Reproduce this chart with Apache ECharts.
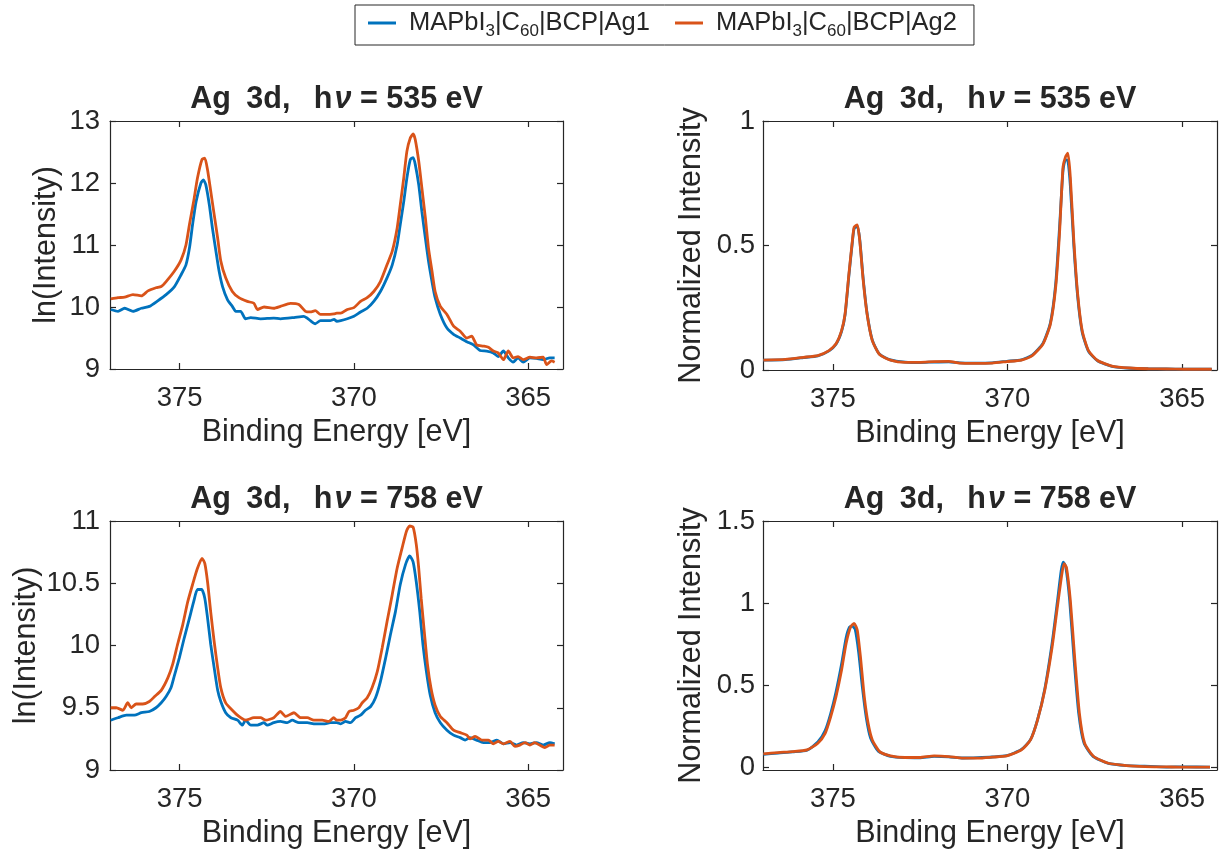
<!DOCTYPE html>
<html>
<head>
<meta charset="utf-8">
<title>Ag 3d core-level spectra</title>
<script src="https://cdn.jsdelivr.net/npm/echarts@6/dist/echarts.min.js"></script>
<style>
  html, body { margin: 0; padding: 0; background: #ffffff; }
  #chart { width: 1227px; height: 853px; }
</style>
</head>
<body>
<div id="chart"></div>
<script>
// Sample names (legend entries)
const sampleNames = ['MAPbI3|C60|BCP|Ag1', 'MAPbI3|C60|BCP|Ag2'];

// Panel titles: photon energy in eV
const photonEnergies = [535, 758];

// Tick values
const energyTicks = [365, 370, 375];
const lnTicks535 = [9, 10, 11, 12, 13];
const lnTicks758 = [9, 9.5, 10, 10.5, 11];
const normTicks535 = [0, 0.5, 1];
const normTicks758 = [0, 0.5, 1, 1.5];

// ln(Intensity) vs binding energy, hv = 535 eV
const ln535_Ag1 = [
  [376.98, 9.96], [376.77, 9.93], [376.58, 9.98], [376.34, 9.93], [376.10, 9.98], [375.87, 10.01],
  [375.63, 10.10], [375.39, 10.20], [375.15, 10.33], [374.96, 10.52], [374.82, 10.68], [374.72, 10.95],
  [374.63, 11.33], [374.53, 11.70], [374.39, 12.00], [374.32, 12.05], [374.25, 11.97], [374.15, 11.65],
  [374.06, 11.27], [373.96, 10.90], [373.87, 10.58], [373.77, 10.33], [373.63, 10.12], [373.49, 10.01],
  [373.39, 9.93], [373.25, 9.93], [373.11, 9.81], [372.96, 9.83], [372.68, 9.81], [372.30, 9.82],
  [372.11, 9.81], [371.72, 9.83], [371.44, 9.85], [371.34, 9.82], [371.25, 9.78], [371.11, 9.73],
  [370.96, 9.78], [370.68, 9.78], [370.57, 9.80], [370.49, 9.77], [370.38, 9.78], [370.19, 9.81],
  [370.00, 9.85], [369.81, 9.92], [369.62, 9.98], [369.43, 10.09], [369.24, 10.25], [369.05, 10.47],
  [368.90, 10.68], [368.76, 11.00], [368.67, 11.33], [368.57, 11.70], [368.48, 12.08], [368.38, 12.38],
  [368.30, 12.41], [368.24, 12.30], [368.14, 11.97], [368.05, 11.54], [367.95, 11.11], [367.86, 10.74],
  [367.76, 10.41], [367.67, 10.15], [367.52, 9.88], [367.33, 9.66], [367.14, 9.56], [366.95, 9.50],
  [366.76, 9.44], [366.57, 9.39], [366.38, 9.30], [366.19, 9.29], [366.00, 9.26], [365.86, 9.20],
  [365.71, 9.29], [365.57, 9.18], [365.43, 9.11], [365.29, 9.18], [365.14, 9.11], [364.95, 9.18],
  [364.76, 9.17], [364.57, 9.15], [364.38, 9.18], [364.24, 9.18]
];
const ln535_Ag2 = [
  [376.98, 10.13], [376.77, 10.15], [376.58, 10.16], [376.34, 10.20], [376.10, 10.18], [375.91, 10.26],
  [375.68, 10.31], [375.53, 10.33], [375.39, 10.41], [375.15, 10.58], [374.96, 10.76], [374.82, 11.00],
  [374.72, 11.33], [374.60, 11.70], [374.49, 12.08], [374.36, 12.38], [374.28, 12.40], [374.20, 12.21],
  [374.11, 11.87], [374.01, 11.49], [373.91, 11.11], [373.82, 10.74], [373.68, 10.47], [373.49, 10.25],
  [373.30, 10.15], [373.06, 10.09], [372.87, 10.06], [372.77, 9.96], [372.58, 10.00], [372.30, 9.98],
  [372.11, 10.01], [371.82, 10.06], [371.58, 10.04], [371.39, 9.93], [371.25, 9.92], [371.11, 9.94],
  [370.96, 9.88], [370.77, 9.88], [370.57, 9.89], [370.49, 9.90], [370.38, 9.90], [370.19, 9.96],
  [370.00, 9.99], [369.81, 10.09], [369.62, 10.15], [369.43, 10.25], [369.24, 10.41], [369.05, 10.68],
  [368.90, 10.90], [368.76, 11.27], [368.67, 11.65], [368.57, 12.08], [368.48, 12.51], [368.38, 12.73],
  [368.30, 12.79], [368.24, 12.70], [368.14, 12.35], [368.05, 11.92], [367.95, 11.44], [367.86, 10.95],
  [367.76, 10.58], [367.67, 10.25], [367.52, 10.01], [367.33, 9.88], [367.14, 9.69], [366.95, 9.61],
  [366.76, 9.50], [366.62, 9.53], [366.48, 9.39], [366.29, 9.37], [366.14, 9.35], [366.00, 9.29],
  [365.86, 9.26], [365.71, 9.15], [365.57, 9.29], [365.43, 9.18], [365.29, 9.20], [365.14, 9.15],
  [364.95, 9.19], [364.76, 9.18], [364.57, 9.19], [364.47, 9.07], [364.33, 9.13], [364.24, 9.11]
];

// ln(Intensity) vs binding energy, hv = 758 eV
const ln758_Ag1 = [
  [376.98, 9.40], [376.77, 9.42], [376.53, 9.44], [376.30, 9.44], [376.10, 9.46], [375.87, 9.47],
  [375.68, 9.50], [375.53, 9.54], [375.39, 9.59], [375.25, 9.66], [375.15, 9.76], [375.01, 9.90],
  [374.87, 10.06], [374.72, 10.22], [374.60, 10.35], [374.49, 10.45], [374.37, 10.45], [374.28, 10.38],
  [374.20, 10.22], [374.11, 10.01], [374.01, 9.82], [373.91, 9.64], [373.82, 9.55], [373.68, 9.46],
  [373.53, 9.42], [373.34, 9.40], [373.20, 9.36], [373.11, 9.40], [372.96, 9.36], [372.77, 9.36],
  [372.58, 9.38], [372.49, 9.36], [372.30, 9.38], [372.11, 9.39], [371.91, 9.38], [371.77, 9.40],
  [371.58, 9.38], [371.34, 9.38], [371.11, 9.37], [370.87, 9.37], [370.68, 9.38], [370.57, 9.38],
  [370.49, 9.38], [370.38, 9.37], [370.24, 9.39], [370.10, 9.38], [369.95, 9.42], [369.81, 9.44],
  [369.67, 9.48], [369.52, 9.51], [369.38, 9.58], [369.24, 9.71], [369.09, 9.90], [368.95, 10.09],
  [368.81, 10.27], [368.67, 10.49], [368.52, 10.65], [368.40, 10.72], [368.30, 10.67], [368.21, 10.51],
  [368.11, 10.27], [368.02, 10.01], [367.92, 9.79], [367.81, 9.60], [367.67, 9.46], [367.52, 9.38],
  [367.33, 9.32], [367.14, 9.28], [366.95, 9.26], [366.81, 9.24], [366.67, 9.26], [366.48, 9.24],
  [366.29, 9.22], [366.09, 9.22], [365.90, 9.24], [365.71, 9.21], [365.52, 9.22], [365.33, 9.20],
  [365.14, 9.22], [364.95, 9.21], [364.76, 9.22], [364.57, 9.20], [364.38, 9.22], [364.24, 9.21]
];
const ln758_Ag2 = [
  [376.98, 9.50], [376.82, 9.50], [376.63, 9.48], [376.49, 9.54], [376.39, 9.50], [376.25, 9.53],
  [376.06, 9.53], [375.87, 9.55], [375.72, 9.59], [375.53, 9.64], [375.34, 9.74], [375.20, 9.85],
  [375.06, 10.01], [374.91, 10.17], [374.77, 10.35], [374.63, 10.49], [374.49, 10.62], [374.36, 10.70],
  [374.28, 10.66], [374.20, 10.51], [374.11, 10.27], [374.01, 10.03], [373.91, 9.82], [373.82, 9.66],
  [373.68, 9.54], [373.49, 9.48], [373.30, 9.43], [373.11, 9.40], [372.87, 9.42], [372.68, 9.42],
  [372.53, 9.40], [372.30, 9.42], [372.11, 9.47], [371.96, 9.43], [371.72, 9.46], [371.53, 9.42],
  [371.34, 9.42], [371.15, 9.40], [370.91, 9.40], [370.72, 9.39], [370.58, 9.42], [370.49, 9.40],
  [370.38, 9.40], [370.24, 9.42], [370.14, 9.47], [370.00, 9.48], [369.86, 9.50], [369.76, 9.54],
  [369.62, 9.58], [369.48, 9.66], [369.33, 9.79], [369.19, 9.98], [369.05, 10.19], [368.90, 10.41],
  [368.76, 10.62], [368.62, 10.78], [368.49, 10.92], [368.40, 10.96], [368.30, 10.95], [368.21, 10.81],
  [368.14, 10.62], [368.07, 10.38], [367.98, 10.11], [367.89, 9.85], [367.79, 9.66], [367.67, 9.52],
  [367.52, 9.43], [367.33, 9.38], [367.14, 9.32], [366.95, 9.30], [366.76, 9.28], [366.67, 9.25],
  [366.52, 9.27], [366.33, 9.24], [366.14, 9.24], [366.00, 9.21], [365.86, 9.23], [365.71, 9.21],
  [365.52, 9.23], [365.38, 9.19], [365.24, 9.20], [365.09, 9.22], [364.95, 9.20], [364.81, 9.22],
  [364.67, 9.20], [364.52, 9.18], [364.38, 9.20], [364.24, 9.20]
];

// Normalized intensity vs binding energy, hv = 535 eV
const norm535_Ag1 = [
  [376.99, 0.040], [376.36, 0.042], [375.84, 0.050], [375.43, 0.057], [375.11, 0.077], [374.91, 0.103],
  [374.75, 0.155], [374.65, 0.222], [374.54, 0.380], [374.44, 0.515], [374.39, 0.568], [374.30, 0.578],
  [374.23, 0.525], [374.13, 0.365], [374.02, 0.228], [373.87, 0.120], [373.66, 0.063], [373.35, 0.041],
  [372.93, 0.032], [372.52, 0.030], [372.10, 0.032], [371.68, 0.033], [371.37, 0.029], [370.96, 0.028],
  [370.44, 0.029], [370.02, 0.035], [369.60, 0.041], [369.29, 0.060], [368.98, 0.108], [368.77, 0.190],
  [368.62, 0.345], [368.51, 0.570], [368.41, 0.800], [368.34, 0.845], [368.27, 0.840], [368.20, 0.740],
  [368.10, 0.500], [367.99, 0.295], [367.86, 0.152], [367.68, 0.075], [367.42, 0.037], [367.01, 0.015],
  [366.49, 0.007], [365.97, 0.005], [365.45, 0.004], [364.93, 0.003], [364.41, 0.003], [364.15, 0.003]
];
const norm535_Ag2 = [
  [376.99, 0.040], [376.36, 0.043], [375.84, 0.051], [375.43, 0.058], [375.11, 0.078], [374.91, 0.105],
  [374.75, 0.158], [374.65, 0.225], [374.54, 0.386], [374.44, 0.520], [374.39, 0.574], [374.30, 0.583],
  [374.23, 0.520], [374.13, 0.359], [374.02, 0.225], [373.87, 0.118], [373.66, 0.062], [373.35, 0.040],
  [372.93, 0.031], [372.52, 0.031], [372.10, 0.034], [371.68, 0.035], [371.37, 0.028], [370.96, 0.027],
  [370.44, 0.028], [370.02, 0.034], [369.60, 0.040], [369.29, 0.058], [368.98, 0.105], [368.77, 0.185],
  [368.62, 0.332], [368.51, 0.547], [368.41, 0.815], [368.34, 0.855], [368.27, 0.871], [368.20, 0.775],
  [368.10, 0.520], [367.99, 0.306], [367.86, 0.158], [367.68, 0.078], [367.42, 0.038], [367.01, 0.016],
  [366.49, 0.008], [365.97, 0.005], [365.45, 0.004], [364.93, 0.003], [364.41, 0.003], [364.15, 0.003]
];

// Normalized intensity vs binding energy, hv = 758 eV
const norm758_Ag1 = [
  [376.99, 0.080], [376.57, 0.088], [376.15, 0.095], [375.74, 0.105], [375.43, 0.155], [375.22, 0.225],
  [375.06, 0.330], [374.91, 0.460], [374.75, 0.630], [374.62, 0.790], [374.52, 0.855], [374.44, 0.860],
  [374.36, 0.840], [374.26, 0.700], [374.15, 0.480], [374.04, 0.300], [373.92, 0.180], [373.70, 0.100],
  [373.35, 0.068], [372.93, 0.060], [372.52, 0.059], [372.10, 0.068], [371.68, 0.065], [371.27, 0.058],
  [370.85, 0.060], [370.44, 0.064], [370.02, 0.072], [369.60, 0.110], [369.34, 0.170], [369.14, 0.290],
  [368.93, 0.480], [368.72, 0.760], [368.57, 1.010], [368.46, 1.200], [368.40, 1.250], [368.33, 1.220],
  [368.22, 1.020], [368.09, 0.650], [367.96, 0.330], [367.81, 0.150], [367.55, 0.068], [367.11, 0.025],
  [366.59, 0.012], [366.07, 0.008], [365.45, 0.003], [364.93, 0.004], [364.20, 0.002]
];
const norm758_Ag2 = [
  [376.99, 0.083], [376.57, 0.091], [376.15, 0.097], [375.74, 0.107], [375.43, 0.148], [375.22, 0.208],
  [375.06, 0.310], [374.91, 0.431], [374.75, 0.593], [374.62, 0.755], [374.49, 0.856], [374.39, 0.877],
  [374.30, 0.836], [374.20, 0.654], [374.10, 0.431], [373.99, 0.269], [373.87, 0.168], [373.66, 0.097],
  [373.35, 0.071], [372.93, 0.061], [372.52, 0.061], [372.10, 0.071], [371.68, 0.067], [371.27, 0.057],
  [370.85, 0.057], [370.44, 0.063], [370.02, 0.071], [369.60, 0.107], [369.34, 0.168], [369.14, 0.289],
  [368.93, 0.472], [368.72, 0.735], [368.57, 0.978], [368.44, 1.180], [368.38, 1.241], [368.31, 1.217],
  [368.20, 1.018], [368.07, 0.654], [367.94, 0.330], [367.79, 0.148], [367.53, 0.067], [367.11, 0.026],
  [366.59, 0.012], [366.07, 0.006], [365.45, 0.004], [364.93, 0.002], [364.20, 0.002]
];

const FONT = '"Liberation Sans", Arial, Helvetica, sans-serif';
const INK = '#262626';
const BLUE = '#0072BD';
const ORANGE = '#D95319';
const TICK_FONT = 27.5;
const LABEL_FONT = 30.5;

// Panel geometry (pixels)
const panels = [
  { left: 110, top: 121, width: 453, height: 248, yName: 'ln(Intensity)', yMin: 9, yMax: 13, yTicks: lnTicks535, nameGap: 48, labelMargin: 10, hv: photonEnergies[0], data: [ln535_Ag1, ln535_Ag2] },
  { left: 763, top: 121, width: 454, height: 249, yName: 'Normalized Intensity', yMin: 0, yMax: 1, yTicks: normTicks535, nameGap: 56, labelMargin: 8, hv: photonEnergies[0], data: [norm535_Ag1, norm535_Ag2] },
  { left: 110, top: 521, width: 453, height: 249, yName: 'ln(Intensity)', yMin: 9, yMax: 11, yTicks: lnTicks758, nameGap: 48, labelMargin: 10, hv: photonEnergies[1], data: [ln758_Ag1, ln758_Ag2] },
  { left: 763, top: 521, width: 454, height: 249, yName: 'Normalized Intensity', yMin: -0.015, yMax: 1.5, yTicks: normTicks758, nameGap: 56, labelMargin: 8, hv: photonEnergies[1], data: [norm758_Ag1, norm758_Ag2] }
];

const axisLineStyle = { color: INK, width: 1.2 };
const grids = [], xAxes = [], yAxes = [], titles = [], series = [];

panels.forEach((p, i) => {
  grids.push({ left: p.left, top: p.top, width: p.width, height: p.height, containLabel: false });

  titles.push({
    text: '{b|Ag}{g1| }{b|3d,}{g2| }{b|h}{i|ν}{b| = ' + p.hv + ' eV}',
    left: p.left + p.width / 2,
    top: p.top - 36.5,
    textAlign: 'center',
    padding: 0,
    textStyle: {
      rich: {
        b: { fontFamily: FONT, fontSize: LABEL_FONT, fontWeight: 'bold', color: INK },
        i: { fontFamily: FONT, fontSize: LABEL_FONT, fontWeight: 'bold', fontStyle: 'italic', color: INK, padding: [0, 0, 0, 2] },
        g1: { width: 15.5 },
        g2: { width: 23.5 }
      }
    }
  });

  const xBase = {
    gridIndex: i, type: 'value', inverse: true, min: 364, max: 377,
    axisLine: { show: true, onZero: false, lineStyle: axisLineStyle },
    axisTick: { show: true, inside: true, length: 6, customValues: energyTicks, lineStyle: axisLineStyle },
    splitLine: { show: false }
  };
  xAxes.push(Object.assign({}, xBase, {
    position: 'bottom',
    axisLabel: { customValues: energyTicks, fontFamily: FONT, fontSize: TICK_FONT, color: INK, margin: 15 },
    name: 'Binding Energy [eV]', nameLocation: 'middle', nameGap: 48.5,
    nameTextStyle: { fontFamily: FONT, fontSize: LABEL_FONT, color: INK }
  }));
  xAxes.push(Object.assign({}, xBase, { position: 'top', axisLabel: { show: false } }));

  const yBase = {
    gridIndex: i, type: 'value', min: p.yMin, max: p.yMax,
    axisLine: { show: true, onZero: false, lineStyle: axisLineStyle },
    axisTick: { show: true, inside: true, length: 6, customValues: p.yTicks, lineStyle: axisLineStyle },
    splitLine: { show: false }
  };
  yAxes.push(Object.assign({}, yBase, {
    position: 'left',
    axisLabel: { customValues: p.yTicks, fontFamily: FONT, fontSize: TICK_FONT, color: INK, margin: p.labelMargin },
    name: p.yName, nameLocation: 'middle', nameGap: p.nameGap, nameRotate: 90,
    nameTextStyle: { fontFamily: FONT, fontSize: LABEL_FONT, color: INK }
  }));
  yAxes.push(Object.assign({}, yBase, { position: 'right', axisLabel: { show: false } }));

  [BLUE, ORANGE].forEach((c, k) => {
    series.push({
      name: sampleNames[k],
      type: 'line',
      xAxisIndex: 2 * i,
      yAxisIndex: 2 * i,
      data: p.data[k],
      showSymbol: false,
      symbol: 'none',
      smooth: 0.2,
      color: c,
      lineStyle: { color: c, width: 2.8 },
      z: 2 + k
    });
  });
});

const chart = echarts.init(document.getElementById('chart'), null, { renderer: 'canvas' });
chart.setOption({
  backgroundColor: '#ffffff',
  animation: false,
  title: titles,
  legend: {
    data: sampleNames,
    left: 355,
    top: 5,
    orient: 'horizontal',
    padding: [5, 17, 5, 13],
    itemGap: 25,
    itemWidth: 28,
    itemHeight: 3,
    icon: 'rect',
    borderColor: INK,
    borderWidth: 1,
    backgroundColor: '#ffffff',
    formatter: name => '{g| }{n|MAPbI}{s|3}{n||C}{s|60}{n||BCP|' + name.slice(-3) + '}',
    textStyle: {
      rich: {
        g: { width: 8 },
        n: { fontFamily: FONT, fontSize: 25.5, color: INK, lineHeight: 34, verticalAlign: 'middle' },
        s: { fontFamily: FONT, fontSize: 17, color: INK, lineHeight: 14, verticalAlign: 'bottom' }
      }
    }
  },
  grid: grids,
  xAxis: xAxes,
  yAxis: yAxes,
  series: series
});
</script>
</body>
</html>
